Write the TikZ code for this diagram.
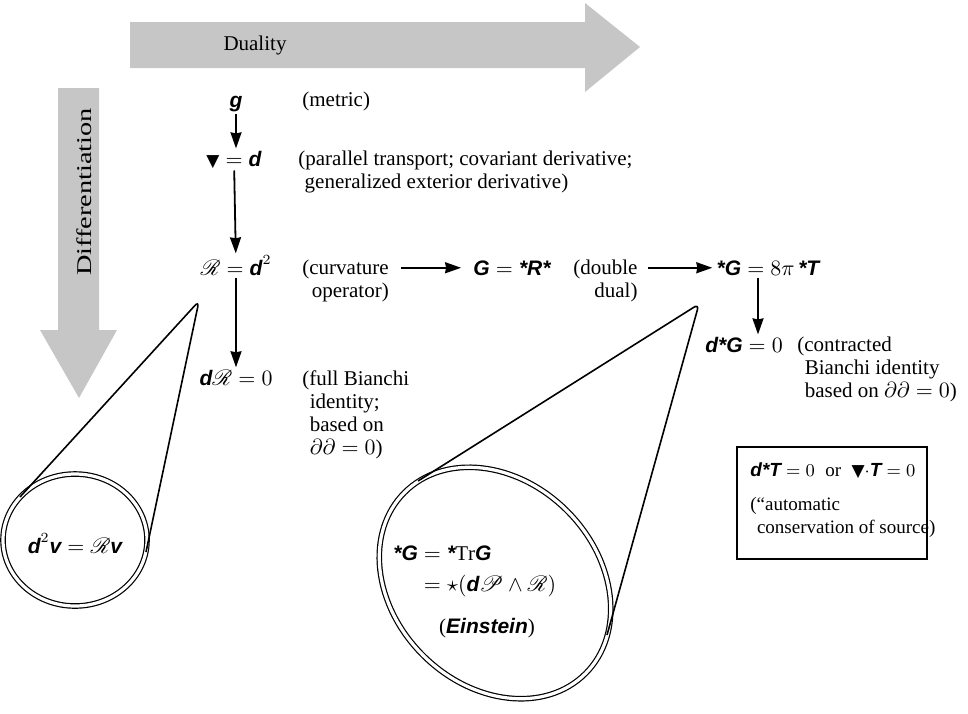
\documentclass[tikz,border=0pt]{standalone}
\usepackage{amssymb}
\usepackage{mathrsfs}
\usepackage{fontspec}
\setmainfont{Liberation Serif}
\newfontfamily\hvfont{Liberation Sans}
\newfontfamily\djfont{DejaVu Sans}
\usetikzlibrary{arrows.meta,positioning}
\newcommand{\bsi}[1]{\mbox{\hvfont\bfseries\itshape #1}}
\newcommand{\nab}{\mbox{\djfont\fontsize{8.5}{10}\selectfont ▼}}
\begin{document}
\begin{tikzpicture}[x=0.5pt, y=-0.5pt,
    font=\fontsize{10.5}{11.5}\selectfont,
    >={Stealth[length=8pt, width=5.5pt, inset=0.5pt]},
    arr/.style={->, line width=0.9pt},
    eq/.style={inner sep=1pt, anchor=base},
    txt/.style={inner sep=0pt, align=left, anchor=north west},
    fat/.style={fill=gray!45, draw=none},
    ring/.style={double, double distance=1.6pt, line width=0.6pt}]
    \useasboundingbox (0,0) rectangle (968,713);

    % grey arrows
    \draw[fat] (130,22) -- (585,22) -- (585,3) -- (640,47) -- (585,92) -- (585,68) -- (130,68) -- cycle;
    \node (duality) at (255,45) {Duality};
    \draw[fat] (58,88) -- (99,88) -- (99,330) -- (117,330) -- (79,398) -- (40,330) -- (58,330) -- cycle;
    \node[rotate=90, xscale=1.35] (differ) at (84,192) {Differentiation};

    % main column (txt nodes: top = baseline - 15)
    \node[eq] (g) at (236,107) {$\bsi{g}$};
    \node[txt] (metric) at (302,92) {(metric)};
    \node[eq] (nabla) at (234,166) {$\nab = \bsi{d}$};
    \node[txt] (nablatxt) at (298,151) {(parallel transport; covariant derivative;\\
        \hspace*{0.3em}generalized exterior derivative)};
    \node[eq] (curv) at (236,275) {$\mathscr{R} = \bsi{d}^2$};
    \node[txt] (curvtxt) at (302,260) {(curvature\\ \hspace*{0.45em}operator)};
    \node[eq] (bian) at (236,385) {$\bsi{d}\mathscr{R} = 0$};
    \node[txt] (biantxt) at (302,370) {(full Bianchi\\ \hspace*{0.35em}identity;\\
        \hspace*{0.35em}based on\\ \hspace*{0.35em}$\partial\partial = 0$)};

    \draw[arr] (g.south) -- (g.south |- nabla.north);
    \draw[arr] (nabla) -- (curv);
    \draw[arr] (curv) -- (bian);

    % dual row
    \node[eq] (dual) at (512,275) {$\bsi{G} = \bsi{*R*}$};
    \node[txt] (dualtxt) at (573,260) {(double\\ \hspace*{1em}dual)};
    \node[eq] (sg) at (768,275) {$\bsi{*G} = 8\pi\,\bsi{*T}$};
    \node[eq] (dsg) at (744,352) {$\bsi{d*G} = 0$};
    \node[txt] (dsgtxt) at (797,337) {(contracted\\ \hspace*{0.35em}Bianchi identity\\
        \hspace*{0.35em}based on $\partial\partial = 0$)};

    \draw[arr, shorten <=6pt, shorten >=5pt] (curvtxt.east |- dual) -- (dual);
    \draw[arr, shorten <=5pt, shorten >=1pt] (dualtxt.east |- sg) -- (sg);
    \draw[arr] ([xshift=-5pt]sg.south) -- ([xshift=-5pt]sg.south |- dsg.north);

    % source box
    \node[draw, line width=0.8pt, minimum width=95pt, minimum height=56pt,
        inner sep=0pt] (box) at (832,503) {};
    \node[txt, font=\fontsize{9.5}{11.5}\selectfont] (cons) at (750,462)
        {$\bsi{d*T} = 0$\hspace{0.55em}or\hspace{0.55em}$\nab{\cdot}\bsi{T} = 0$};
    \node[txt, font=\fontsize{9.5}{11.5}\selectfont] (constxt) at (750,497)
        {(``automatic\\ \hspace*{0.35em}conservation of source)};

    % small loop
    \draw[ring] (75,540) ellipse [x radius=72, y radius=66];
    \draw[line width=0.8pt, rounded corners=3pt] (20,497) -- (199,301) -- (146,552);
    \node[eq] (loop) at (75,553) {$\bsi{d}^2\bsi{v} = \mathscr{R}\bsi{v}$};

    % big loop
    \draw[ring, rotate around={-45:(495,583)}] (495,583) ellipse [x radius=128, y radius=102];
    \draw[line width=0.8pt, rounded corners=3pt] (418,481) -- (699,304) -- (607,635);
    \node[txt] (ein) at (393,545) {$\bsi{*G} = \bsi{*}\mathrm{Tr}\bsi{G}$\\[4pt]
        $\hphantom{\bsi{*G}} = \star(\bsi{d}\mathscr{P}\wedge\mathscr{R})$};
    \node[eq] (einname) at (487,633) {(\bsi{Einstein})};
\end{tikzpicture}
\end{document}
